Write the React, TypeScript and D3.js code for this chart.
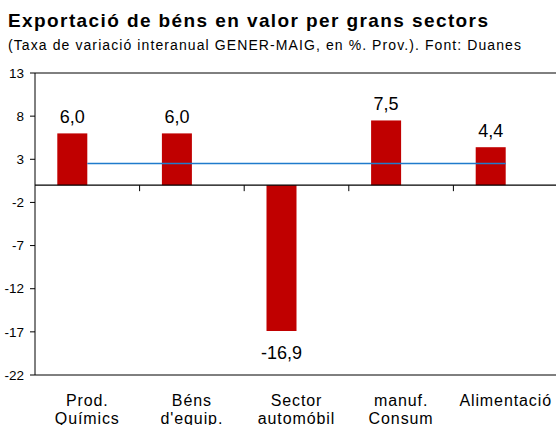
import React from "react";
import * as d3 from "d3";

const categories = [["Prod.", "Químics"], ["Béns", "d'equip."], ["Sector", "automóbil"], ["manuf.", "Consum"], ["Alimentació"]];
const values = [6.0, 6.0, -16.9, 7.5, 4.4];
const valueLabels = ["6,0", "6,0", "-16,9", "7,5", "4,4"];
const average = [2.5, 2.5, 2.5, 2.5, 2.5];
const yTicks = [13, 8, 3, -2, -7, -12, -17, -22];

const W = 556, H = 425;
const left = 35, right = 558, top = 73, bottom = 375;
const font = "'Liberation Sans', Arial, sans-serif";

export default function App() {
  const y = d3.scaleLinear().domain([-22, 13]).range([bottom, top]);
  const x = d3.scaleBand().domain(categories.map((_, i) => String(i))).range([left, right]);
  const bw = x.bandwidth();
  const barW = 30;
  const center = (i: number) => (x(String(i)) as number) + bw / 2;
  const line = d3.line<number>().x((_, i) => center(i)).y((d) => y(d));
  const y0 = y(0);
  return (
    <svg width={W} height={H} style={{ position: "absolute", left: 0, top: 0, background: "#fff" }}>
      <text x={8} y={26.5} fontFamily={font} fontSize={19} fontWeight="bold" fill="#000" textLength={480} lengthAdjust="spacing">Exportació  de béns en valor  per grans sectors</text>
      <text x={8} y={50} fontFamily={font} fontSize={14} fill="#000" textLength={513} lengthAdjust="spacing">(Taxa de variació interanual GENER-MAIG, en %. Prov.).  Font: Duanes</text>
      <line x1={left} x2={right} y1={top} y2={top} stroke="#000" />
      <line x1={left} x2={right} y1={bottom} y2={bottom} stroke="#000" />
      <line x1={left} x2={left} y1={top} y2={bottom} stroke="#000" />
      {yTicks.map((t) => (
        <g key={t}>
          <line x1={left - 5} x2={left} y1={y(t)} y2={y(t)} stroke="#000" />
          <text x={left - 11} y={y(t)} dy="0.35em" textAnchor="end" fontFamily={font} fontSize={13.5} fill="#000">{t}</text>
        </g>
      ))}
      {values.map((v, i) => (
        <rect key={i} x={center(i) - barW} y={Math.min(y(v), y0)} width={barW} height={Math.abs(y(v) - y0)} fill="#C00000" />
      ))}
      <line x1={left} x2={right} y1={y0} y2={y0} stroke="#000" strokeWidth={1.3} />
      {categories.map((_, i) => i > 0 ? (
        <line key={i} x1={x(String(i)) as number} x2={x(String(i)) as number} y1={y0} y2={y0 + 6} stroke="#000" />
      ) : null)}
      <path d={line(average) || ""} fill="none" stroke="#1F7BCC" strokeWidth={1.5} />
      {values.map((v, i) => (
        <text key={i} x={center(i) - barW / 2} y={v >= 0 ? y(v) - 10 : y(v) + 28} textAnchor="middle" fontFamily={font} fontSize={18} fill="#000">{valueLabels[i]}</text>
      ))}
      {categories.map((c, i) => (
        <text key={i} textAnchor="middle" fontFamily={font} fontSize={16} letterSpacing={0.9} fill="#000">
          {c.map((s, j) => (
            <tspan key={j} x={center(i)} y={406 + j * 18}>{s}</tspan>
          ))}
        </text>
      ))}
    </svg>
  );
}
